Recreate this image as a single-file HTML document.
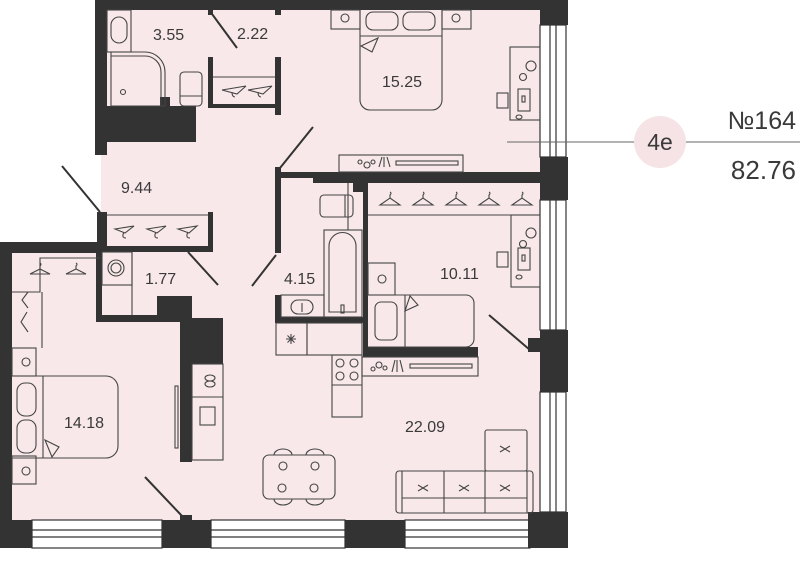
<!DOCTYPE html>
<html><head><meta charset="utf-8"><style>
html,body{margin:0;padding:0;background:#fff;width:800px;height:570px;overflow:hidden}
svg{display:block}
text{font-family:"Liberation Sans",sans-serif;fill:#3a3a3a}
</style></head><body>
<svg width="800" height="570" viewBox="0 0 800 570" xmlns="http://www.w3.org/2000/svg">
<g fill="#f8e8ea">
<rect x="101" y="0" width="440" height="525"/>
<rect x="0" y="245" width="110" height="280"/>
</g>
<g fill="#fff" stroke="#333" stroke-width="1.2">
<rect x="540" y="25" width="26" height="132"/>
<rect x="540" y="200" width="26" height="130"/>
<rect x="540" y="392" width="26" height="120"/>
<rect x="32" y="520" width="130" height="28"/>
<rect x="211" y="520" width="134" height="28"/>
<rect x="405" y="520" width="125" height="28"/>
</g>
<g stroke="#333" stroke-width="1.2">
<line x1="550" y1="25" x2="550" y2="157"/><line x1="556" y1="25" x2="556" y2="157"/>
<line x1="550" y1="200" x2="550" y2="330"/><line x1="556" y1="200" x2="556" y2="330"/>
<line x1="550" y1="392" x2="550" y2="512"/><line x1="556" y1="392" x2="556" y2="512"/>
<line x1="32" y1="530" x2="162" y2="530"/><line x1="32" y1="537" x2="162" y2="537"/>
<line x1="211" y1="530" x2="345" y2="530"/><line x1="211" y1="537" x2="345" y2="537"/>
<line x1="405" y1="530" x2="528" y2="530"/><line x1="405" y1="537" x2="528" y2="537"/>
</g>
<g fill="#333">
<rect x="95" y="0" width="473" height="10"/>
<rect x="540" y="0" width="28" height="25"/>
<rect x="540" y="157" width="28" height="43"/>
<rect x="540" y="330" width="28" height="62"/>
<rect x="528" y="338" width="14" height="14"/>
<rect x="528" y="512" width="40" height="36"/>
<rect x="95" y="0" width="12" height="155"/>
<rect x="95" y="106" width="101" height="36"/>
<rect x="160" y="97" width="10" height="10"/>
<rect x="208" y="10" width="5" height="5"/><rect x="275" y="10" width="6" height="5"/>
<rect x="208" y="57" width="5" height="50"/>
<rect x="275" y="57" width="6" height="58"/>
<rect x="208" y="104" width="73" height="4"/>
<rect x="97" y="212" width="10" height="40"/>
<rect x="208" y="212" width="5" height="40"/>
<rect x="97" y="246" width="116" height="6"/>
<rect x="0" y="242" width="100" height="11"/>
<rect x="0" y="242" width="12" height="306"/>
<rect x="0" y="520" width="32" height="28"/>
<rect x="162" y="520" width="49" height="28"/>
<rect x="180" y="515" width="12" height="6"/>
<rect x="345" y="520" width="60" height="28"/>
<rect x="96" y="252" width="6" height="70"/>
<rect x="96" y="315" width="94" height="7"/>
<rect x="157" y="296" width="35" height="24"/>
<rect x="180" y="296" width="12" height="166"/>
<rect x="192" y="318" width="31" height="46"/>
<rect x="275" y="167" width="6" height="86"/>
<rect x="275" y="172" width="40" height="6"/>
<rect x="313" y="172" width="227" height="11"/>
<rect x="353" y="183" width="15" height="9"/>
<rect x="363" y="183" width="5" height="174"/>
<rect x="363" y="347" width="115" height="10"/>
<rect x="275" y="295" width="6" height="28"/>
<rect x="275" y="317" width="93" height="6"/>
</g>
<g stroke="#333" stroke-width="2">
<line x1="212" y1="14" x2="237" y2="48"/>
<line x1="280" y1="168" x2="313" y2="127"/>
<line x1="100" y1="212" x2="62" y2="166"/>
<line x1="188" y1="252" x2="218" y2="285"/>
<line x1="276" y1="255" x2="252" y2="286"/>
<line x1="530" y1="350" x2="489" y2="315"/>
<line x1="182" y1="516" x2="145" y2="477"/>
</g>
<g fill="none" stroke="#444" stroke-width="1.1">
<rect x="107" y="10" width="24" height="42"/>
<rect x="111" y="17" width="16" height="26" rx="8"/>
<path d="M111 52 H145 A20 20 0 0 1 165 72 V106 H111 Z"/>
<path d="M111 56 H145 A16 16 0 0 1 161 72 V106"/>
<circle cx="123" cy="92" r="2.5"/>
<rect x="180" y="72" width="22" height="34" rx="4"/>
<line x1="180" y1="96" x2="202" y2="96"/>
<line x1="213" y1="77" x2="275" y2="77"/>
<path d="M222 90 L246 86 M222 90 L237 94 L246 86 M232 92 q0 5 3 5" />
<path d="M248 90 L272 86 M248 90 L263 94 L272 86 M258 92 q0 5 3 5"/>
<rect x="331" y="10" width="29" height="19"/><circle cx="345" cy="18" r="4"/>
<rect x="442" y="10" width="29" height="19"/><circle cx="456" cy="18" r="4"/>
<path d="M360 10 V100 A10 10 0 0 0 370 110 H432 A10 10 0 0 0 442 100 V10"/>
<line x1="360" y1="36" x2="442" y2="36"/>
<rect x="366" y="12" width="32" height="18" rx="7"/>
<rect x="403" y="12" width="32" height="18" rx="7"/>
<path d="M361 46 L378 38 L372 52 Z"/>
<rect x="510" y="47" width="30" height="73"/>
<circle cx="531" cy="66" r="5"/><circle cx="523" cy="77" r="3.5"/>
<rect x="518" y="89" width="12" height="22"/><rect x="522" y="96" width="3" height="6"/>
<rect x="497" y="93" width="11" height="15"/>
<ellipse cx="519" cy="117" rx="3" ry="2"/>
<line x1="507" y1="142" x2="540" y2="142"/>
<rect x="339" y="155" width="124" height="17"/>
<rect x="396" y="161" width="62" height="4"/>
<circle cx="360" cy="162" r="2"/><circle cx="367" cy="165" r="3"/><circle cx="373" cy="162" r="2"/>
<path d="M379 167 L382 157 M384 167 L384 157 M387 157 L390 167"/>
<line x1="368" y1="215" x2="540" y2="215"/>
<g>
<path d="M380 205 L390 198 L400 205 Z M390 198 v-3 q2-2 0-3"/>
<path d="M413 205 L423 198 L433 205 Z M423 198 v-3 q2-2 0-3"/>
<path d="M446 205 L456 198 L466 205 Z M456 198 v-3 q2-2 0-3"/>
<path d="M479 205 L489 198 L499 205 Z M489 198 v-3 q2-2 0-3"/>
<path d="M512 205 L522 198 L532 205 Z M522 198 v-3 q2-2 0-3"/>
</g>
<rect x="511" y="215" width="29" height="72"/>
<circle cx="531" cy="233" r="5"/><circle cx="523" cy="244" r="3.5"/>
<rect x="518" y="248" width="12" height="22"/><rect x="522" y="255" width="3" height="6"/>
<rect x="497" y="252" width="11" height="15"/>
<ellipse cx="519" cy="277" rx="3" ry="2"/>
<rect x="368" y="263" width="27" height="32"/><circle cx="382" cy="279" r="4"/>
<path d="M368 295 H466 A8 8 0 0 1 474 303 V339 A8 8 0 0 1 466 347 H368"/>
<line x1="405" y1="295" x2="405" y2="347"/>
<rect x="375" y="302" width="22" height="38" rx="6"/>
<path d="M405 311 L410 296 L418 305 Z"/>
<rect x="320" y="195" width="33" height="22" rx="4"/>
<line x1="345" y1="195" x2="345" y2="217"/><line x1="348" y1="183" x2="348" y2="230"/>
<rect x="324" y="230" width="38" height="87"/>
<path d="M329 312 V246 A13 13 0 0 1 356 246 V312 Z"/>
<rect x="341" y="305" width="3" height="8"/>
<rect x="281" y="295" width="43" height="22"/>
<rect x="291" y="300" width="22" height="14" rx="7"/>
<line x1="302" y1="303" x2="302" y2="312"/>
<rect x="276" y="323" width="31" height="32"/>
<path d="M286 339 h10 M291 334 v10 M287.5 335.5 l7 7 M294.5 335.5 l-7 7"/>
<rect x="307" y="323" width="55" height="32"/>
<rect x="332" y="355" width="30" height="62"/>
<line x1="332" y1="385" x2="362" y2="385"/>
<circle cx="340" cy="363" r="4"/><circle cx="354" cy="363" r="4"/>
<circle cx="340" cy="376" r="4"/><circle cx="354" cy="376" r="4"/>
<rect x="362" y="357" width="116" height="19"/>
<rect x="410" y="364" width="62" height="4"/>
<circle cx="373" cy="369" r="2"/><circle cx="379" cy="365" r="3"/><circle cx="385" cy="368" r="2"/>
<path d="M392 372 L395 360 M397 372 L397 360 M400 360 L403 372"/>
<rect x="192" y="364" width="31" height="96"/>
<line x1="192" y1="397" x2="223" y2="397"/>
<ellipse cx="210" cy="378" rx="5" ry="3"/><ellipse cx="210" cy="384" rx="5" ry="3"/>
<rect x="200" y="407" width="15" height="18"/>
<rect x="175" y="386" width="3" height="62"/>
<rect x="263" y="455" width="72" height="44" rx="6"/>
<path d="M274 455 a9 6 0 0 1 18 0 M306 455 a9 6 0 0 1 18 0 M274 499 a9 6 0 0 0 18 0 M306 499 a9 6 0 0 0 18 0"/>
<circle cx="283" cy="466" r="4"/><circle cx="315" cy="466" r="4"/>
<circle cx="282" cy="488" r="4"/><circle cx="314" cy="488" r="4"/>
<rect x="485" y="430" width="42" height="41" rx="2"/>
<rect x="396" y="471" width="137" height="42" rx="3"/>
<line x1="402" y1="471" x2="402" y2="513"/><line x1="527" y1="471" x2="527" y2="513"/>
<line x1="444" y1="471" x2="444" y2="513"/><line x1="485" y1="471" x2="485" y2="513"/>
<line x1="402" y1="498" x2="527" y2="498"/>
<path d="M418 485 l5 3 l5 -3 M418 491 l5 -3 l5 3"/>
<path d="M459 485 l5 3 l5 -3 M459 491 l5 -3 l5 3"/>
<path d="M500 485 l5 3 l5 -3 M500 491 l5 -3 l5 3"/>
<path d="M500 446 l5 3 l5 -3 M500 452 l5 -3 l5 3"/>
<line x1="107" y1="215" x2="208" y2="215"/>
<path d="M115 229 L134 226 L125 233 Z M124 232 q-3 6 2 6"/>
<path d="M147 229 L166 226 L157 233 Z M156 232 q-3 6 2 6"/>
<path d="M178 229 L197 226 L189 233 Z M188 232 q-3 6 2 6"/>
<rect x="102" y="252" width="30" height="33"/>
<line x1="132" y1="252" x2="132" y2="315"/>
<circle cx="116" cy="268" r="8"/><circle cx="116" cy="268" r="5"/>
<path d="M12 292 H40 V258 H100"/>
<path d="M30 274 L40 269 L50 274 Z M40 269 v-3 q2-2 0-3"/>
<path d="M66 274 L76 269 L86 274 Z M76 269 v-3 q2-2 0-3"/>
<line x1="42" y1="292" x2="42" y2="348"/>
<path d="M28 292 L22 300 L28 308 M27 312 L21 322 L28 332"/>
<rect x="12" y="348" width="24" height="28"/><circle cx="26" cy="362" r="4"/>
<rect x="12" y="456" width="24" height="28"/><circle cx="26" cy="471" r="4"/>
<path d="M12 376 H106 A12 12 0 0 1 118 388 V446 A12 12 0 0 1 106 458 H12"/>
<line x1="43" y1="376" x2="43" y2="458"/>
<rect x="17" y="383" width="19" height="33" rx="8"/>
<rect x="17" y="420" width="19" height="33" rx="8"/>
<path d="M45 440 L59 447 L52 457 Z"/>
</g>
<g font-size="16">
<text x="153" y="40">3.55</text>
<text x="237" y="39">2.22</text>
<text x="382" y="87">15.25</text>
<text x="121" y="193">9.44</text>
<text x="145" y="284">1.77</text>
<text x="284" y="284">4.15</text>
<text x="440" y="279">10.11</text>
<text x="64" y="428">14.18</text>
<text x="405" y="432">22.09</text>
</g>
<line x1="507" y1="142" x2="800" y2="142" stroke="#666" stroke-width="1"/>
<circle cx="660" cy="142" r="26" fill="#f6e3e5"/>
<text x="660" y="150" font-size="23" text-anchor="middle">4е</text>
<text x="796" y="129" font-size="25" text-anchor="end">№164</text>
<text x="796" y="179" font-size="26" text-anchor="end">82.76</text>
</svg>
</body></html>
